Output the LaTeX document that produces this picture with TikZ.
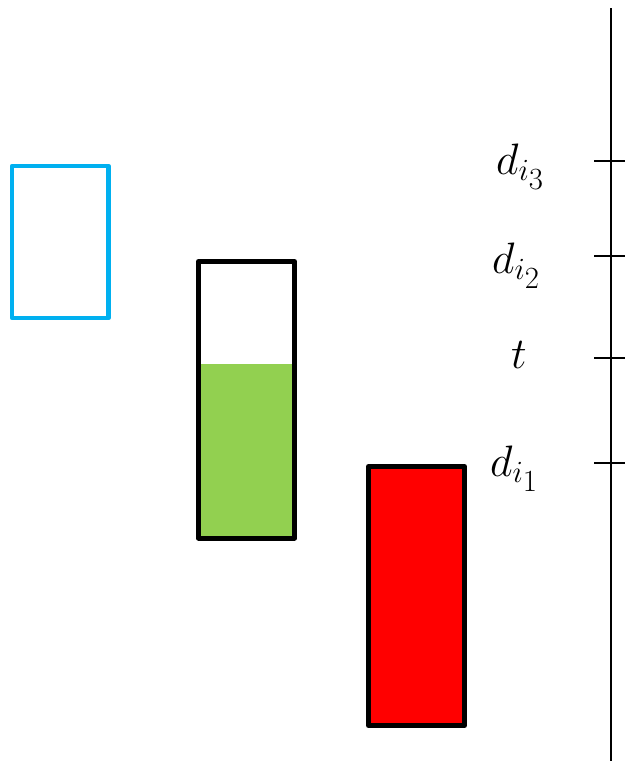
\documentclass[tikz,border=0pt]{standalone}
\usepackage{fix-cm}
\definecolor{boxblue}{HTML}{00B0F0}
\definecolor{boxgreen}{HTML}{92D050}
\definecolor{boxred}{HTML}{FF0000}
\newcommand{\subsub}[2]{d_{#1_{\scriptstyle #2}}}
\begin{document}
\begin{tikzpicture}[x=1pt,y=-1pt,
  thickbox/.style={line width=5pt,line join=round},
  lbl/.style={anchor=base west,inner sep=0pt,font=\fontsize{44}{52}\selectfont},
  tickline/.style={line width=2pt}]
\useasboundingbox (0,0) rectangle (625,761);
% blue box
\draw[boxblue,line width=4.5pt,line join=round] (12,166) rectangle (108.5,318);
% green box
\fill[boxgreen] (198.5,364) rectangle (294.5,538);
\draw[thickbox] (198.5,261.5) rectangle (294.5,538);
% red box
\draw[thickbox,fill=boxred] (368.5,466.5) rectangle (464.5,725.5);
% axis
\draw[tickline] (611,8) -- (611,761);
\foreach \yy in {161,256,358,463} {\draw[tickline] (594,\yy) -- (625,\yy);}
% labels
\node[lbl] (d3) at (496,174) {$\subsub{i}{3}$};
\node[lbl] (d2) at (492,273) {$\subsub{i}{2}$};
\node[lbl] (t) at (511,368) {$t$};
\node[lbl] (d1) at (490,476) {$\subsub{i}{1}$};
\end{tikzpicture}
\end{document}
